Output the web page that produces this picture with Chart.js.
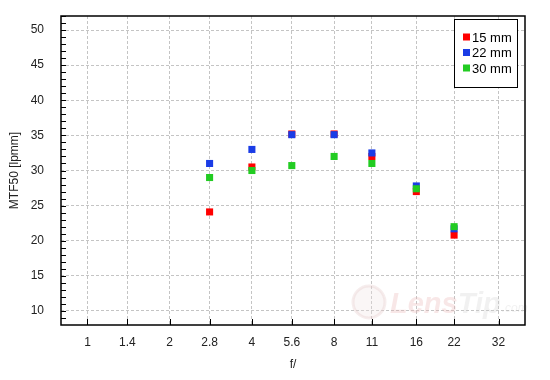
<!DOCTYPE html>
<html>
<head>
<meta charset="utf-8">
<script src="https://cdn.jsdelivr.net/npm/chart.js@4"></script>
<style>
  html, body { margin: 0; padding: 0; background: #fff; }
  #wrap { width: 550px; height: 380px; }
</style>
</head>
<body>
<div id="wrap"><canvas id="mtfChart" width="550" height="380"></canvas></div>
<script>
// f-numbers on the axis and apertures actually measured
const fStops = [1, 1.4, 2, 2.8, 4, 5.6, 8, 11, 16, 22, 32];
const apertures = [2.8, 4, 5.6, 8, 11, 16, 22];
const yTicks = [10, 15, 20, 25, 30, 35, 40, 45, 50];

// MTF50 values [lpmm] per focal length
const mtf15 = [24.1, 30.5, 35.2, 35.2, 32.0, 27.0, 20.8];
const mtf22 = [31.0, 33.0, 35.1, 35.1, 32.5, 27.8, 21.7];
const mtf30 = [29.0, 30.0, 30.7, 32.0, 31.0, 27.4, 22.0];

const seriesLabels = ['15 mm', '22 mm', '30 mm'];
const seriesColors = ['#ff0000', '#1a3ce6', '#22cc22'];

const FONT = 'Liberation Sans, Arial, sans-serif';
const TXT = '#222';

function toPoints(vals) {
  return apertures.map((f, i) => ({ x: f, y: vals[i] }));
}

// marco, ticks hacia dentro, marca de agua y leyenda
const decor = {
  id: 'decor',
  beforeDatasetsDraw(chart) {
    const ctx = chart.ctx;
    ctx.save();
    ctx.globalAlpha = 0.3;
    ctx.strokeStyle = '#e0c4c4';
    ctx.fillStyle = '#f0e2e2';
    ctx.lineWidth = 3;
    ctx.beginPath();
    ctx.arc(369, 302, 16, 0, Math.PI * 2);
    ctx.fill();
    ctx.stroke();
    ctx.font = 'italic bold 29px ' + FONT;
    ctx.textBaseline = 'alphabetic';
    ctx.fillStyle = '#e8b0b0';
    ctx.fillText('Lens', 390, 313);
    const w = ctx.measureText('Lens').width;
    ctx.fillStyle = '#cfcfcf';
    ctx.fillText('Tip', 390 + w, 313);
    const w2 = ctx.measureText('Tip').width;
    ctx.font = 'italic 12px ' + FONT;
    ctx.fillText('.com', 390 + w + w2 + 1, 312);
    ctx.restore();
  },
  afterDraw(chart) {
    const ctx = chart.ctx;
    const a = chart.chartArea;
    const xs = chart.scales.x, ys = chart.scales.y;
    ctx.save();
    ctx.strokeStyle = '#000';
    ctx.lineWidth = 1;
    ctx.beginPath();
    // ticks hacia dentro en el eje Y (cada unidad)
    for (let v = 9; v <= 52; v++) {
      const py = Math.round(ys.getPixelForValue(v)) + 0.5;
      ctx.moveTo(a.left, py);
      ctx.lineTo(a.left + 5, py);
    }
    // ticks en el eje X
    fStops.forEach(f => {
      const px = Math.round(xs.getPixelForValue(f)) + 0.5;
      ctx.moveTo(px, a.bottom);
      ctx.lineTo(px, a.bottom - 6);
    });
    ctx.stroke();
    ctx.lineWidth = 1.5;
    ctx.strokeRect(a.left, a.top, a.right - a.left, a.bottom - a.top);

    // leyenda
    const lx = 454.5, ly = 19.5, lw = 63, lh = 68;
    ctx.fillStyle = '#fff';
    ctx.fillRect(lx, ly, lw, lh);
    ctx.lineWidth = 1;
    ctx.strokeRect(lx, ly, lw, lh);
    ctx.font = '13px ' + FONT;
    ctx.textBaseline = 'middle';
    chart.data.datasets.forEach((ds, i) => {
      const cy = 37 + i * 15.5;
      ctx.fillStyle = ds.backgroundColor;
      ctx.fillRect(463, cy - 3.5, 7, 7);
      ctx.fillStyle = '#000';
      ctx.fillText(ds.label, 472, cy + 1);
    });
    ctx.restore();
  }
};

const ctx = document.getElementById('mtfChart').getContext('2d');
const mtfChart = new Chart(ctx, {
  type: 'scatter',
  data: {
    datasets: [
      { label: seriesLabels[0], data: toPoints(mtf15), backgroundColor: seriesColors[0], order: 3 },
      { label: seriesLabels[1], data: toPoints(mtf22), backgroundColor: seriesColors[1], order: 2 },
      { label: seriesLabels[2], data: toPoints(mtf30), backgroundColor: seriesColors[2], order: 1 }
    ].map(ds => Object.assign(ds, {
      pointStyle: 'rect',
      pointRadius: 5,
      pointHoverRadius: 5,
      borderWidth: 0,
      borderColor: ds.backgroundColor
    }))
  },
  options: {
    responsive: false,
    animation: false,
    layout: { padding: { left: 0, right: 25, top: 16, bottom: 0 } },
    plugins: {
      legend: { display: false },
      tooltip: { enabled: false }
    },
    scales: {
      x: {
        type: 'logarithmic',
        min: 0.8,
        max: 40,
        afterBuildTicks: (s) => { s.ticks = fStops.map(v => ({ value: v })); },
        afterFit: (s) => { s.height = 55; s.paddingLeft = 0; s.paddingRight = 0; },
        grid: { color: '#c4c4c4', drawTicks: false, lineWidth: 1 },
        border: { display: false, dash: [3, 2] },
        ticks: {
          autoSkip: false,
          maxRotation: 0,
          padding: 10,
          color: TXT,
          font: { family: FONT, size: 12 },
          callback: (v) => String(v)
        },
        title: {
          display: true,
          text: 'f/',
          color: TXT,
          font: { family: FONT, size: 12 },
          padding: { top: 4, bottom: 8 }
        }
      },
      y: {
        min: 8,
        max: 52,
        afterBuildTicks: (s) => { s.ticks = yTicks.map(v => ({ value: v })); },
        afterFit: (s) => { s.width = 61; s.paddingTop = 0; s.paddingBottom = 0; },
        grid: { color: '#c4c4c4', drawTicks: false, lineWidth: 1 },
        border: { display: false, dash: [3, 2] },
        ticks: {
          padding: 17,
          color: TXT,
          font: { family: FONT, size: 12 }
        },
        title: {
          display: true,
          text: 'MTF50 [lpmm]',
          color: TXT,
          font: { family: FONT, size: 12 },
          padding: { top: 7, bottom: 4 }
        }
      }
    }
  },
  plugins: [decor]
});
</script>
</body>
</html>
